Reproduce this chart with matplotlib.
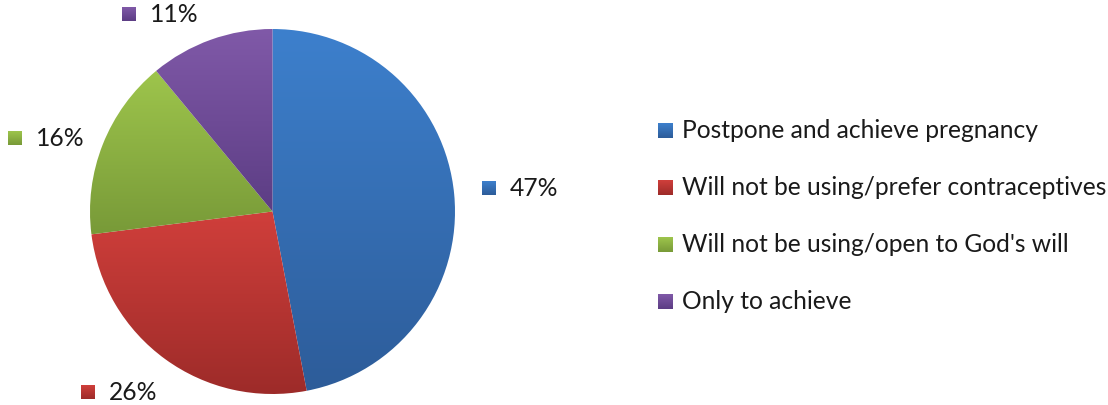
import numpy as np
import matplotlib.pyplot as plt
from matplotlib.colors import LinearSegmentedColormap
from matplotlib.patches import Rectangle

categories = [
    "Postpone and achieve pregnancy",
    "Will not be using/prefer contraceptives",
    "Will not be using/open to God's will",
    "Only to achieve",
]
shares = [47, 26, 16, 11]

# gradient ends per slice (light top, dark bottom)
TOP = ["#3d80cd", "#d03f3b", "#9ec54c", "#8059a8"]
BOTTOM = ["#2d5c99", "#9d2b29", "#789a38", "#5c3d84"]
TEXT = "#1a1a1a"
FONT = "Lato"
FS = 17.7

W, H = 1108, 406
fig = plt.figure(figsize=(W / 100, H / 100), dpi=100)
ax = fig.add_axes([0, 0, 1, 1])

grad = np.linspace(0, 1, 256).reshape(-1, 1)


def gradient_fill(patch, top, bottom, extent):
    cmap = LinearSegmentedColormap.from_list("g", [bottom, top])
    im = ax.imshow(grad, extent=extent, origin="lower", cmap=cmap,
                   aspect="auto", zorder=patch.get_zorder(), interpolation="bilinear")
    im.set_clip_path(patch)


wedges, _ = ax.pie(shares, center=(272.5, 193.5), radius=182.5, startangle=90,
                   counterclock=False, wedgeprops=dict(linewidth=0))
for w, top, bot in zip(wedges, TOP, BOTTOM):
    v = w.get_path().vertices
    w.set_facecolor("none")
    gradient_fill(w, top, bot, (v[:, 0].min(), v[:, 0].max(), v[:, 1].min(), v[:, 1].max()))


def key_square(x, yc, top, bot, size=14):
    sq = Rectangle((x, yc - size / 2), size, size, facecolor="none", linewidth=0)
    ax.add_patch(sq)
    gradient_fill(sq, top, bot, (x, x + size, yc - size / 2, yc + size / 2))


# percentage labels beside the slices (square left edge, row centre)
label_pos = [(482, 217), (81, 13), (8, 267), (122, 391)]
for share, (lx, ly), top, bot in zip(shares, label_pos, TOP, BOTTOM):
    key_square(lx, ly, top, bot)
    ax.text(lx + 28, ly, f"{share}%", fontsize=FS, family=FONT, color=TEXT,
            ha="left", va="center")

# legend
for i, (cat, top, bot) in enumerate(zip(categories, TOP, BOTTOM)):
    yc = H - (131 + 57 * i)
    key_square(658, yc, top, bot, size=15)
    ax.text(682, yc, cat, fontsize=FS, family=FONT, color=TEXT, ha="left", va="center")

ax.set_xlim(0, W)
ax.set_ylim(0, H)
ax.set_aspect("equal")
ax.axis("off")

fig.savefig("out.png", dpi=100, facecolor="white")
